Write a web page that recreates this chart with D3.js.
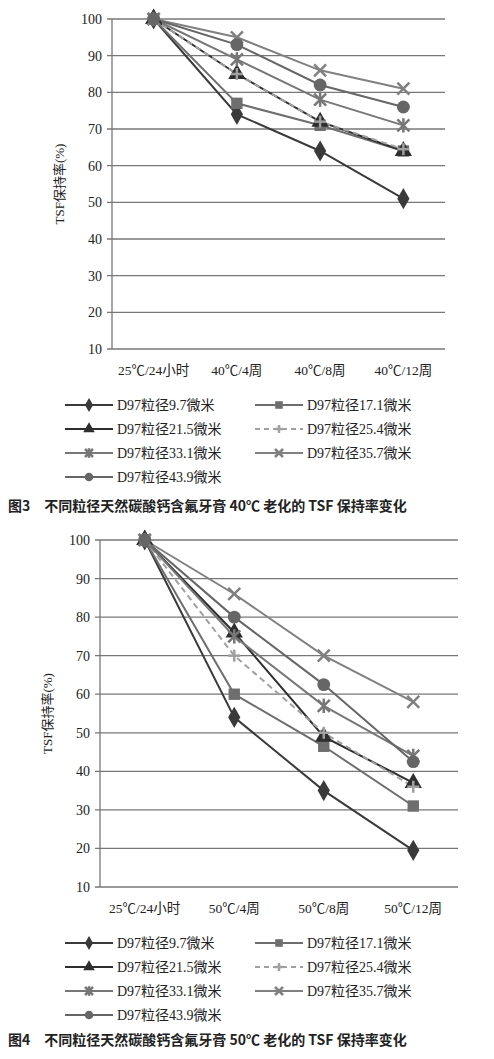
<!DOCTYPE html>
<html><head><meta charset="utf-8">
<script src="https://cdn.jsdelivr.net/npm/d3@7"></script>
<style>body{margin:0;background:#fff}text{font-family:"Liberation Serif","Noto Sans CJK SC",serif;fill:#222}</style>
</head><body><svg id="vis" width="494" height="1059"></svg>
<script>
const names = ['D97粒径9.7微米','D97粒径17.1微米','D97粒径21.5微米','D97粒径25.4微米','D97粒径33.1微米','D97粒径35.7微米','D97粒径43.9微米']
const cats1 = ['25℃/24小时','40℃/4周','40℃/8周','40℃/12周']
const cats2 = ['25℃/24小时','50℃/4周','50℃/8周','50℃/12周']
const yTicks = [10,20,30,40,50,60,70,80,90,100]
const vals1 = [
  [100,74,64,51],
  [100,77,71,64],
  [100,85,72,64],
  [100,85,72,64.5],
  [100,89,78,71],
  [100,95,86,81],
  [100,93,82,76]
]
const vals2 = [
  [100,54,35,19.5],
  [100,60,46.5,31],
  [100,76,49,37],
  [100,70,50,36],
  [100,75,57,44],
  [100,86,70,58],
  [100,80,62.5,42.5]
]
const colors = ['#3a3a3a','#6e6e6e','#2e2e2e','#a0a0a0','#777','#808080','#666']
const shapes = ['diamond','square','triangle','plus','asterisk','cross','circle']

const svg = d3.select('#vis')

function marker(g, type, x, y, s, c) {
  if (type === 'plus' || type === 'asterisk' || type === 'cross') {
    const p = type === 'plus' ? [[0,-1,0,1],[-1,0,1,0]]
      : type === 'cross' ? [[-1,-1,1,1],[-1,1,1,-1]]
      : [[-1,-1,1,1],[-1,1,1,-1],[0,-1.2,0,1.2]]
    for (const [a,b,e,f] of p) g.append('line').attr('x1',x+a*s).attr('y1',y+b*s).attr('x2',x+e*s).attr('y2',y+f*s)
      .attr('stroke',c).attr('stroke-width',2.5)
    return
  }
  const sym = {diamond:d3.symbolDiamond,square:d3.symbolSquare,triangle:d3.symbolTriangle,circle:d3.symbolCircle}[type]
  g.append('path').attr('d',d3.symbol(sym, s*s*3.6)()).attr('transform',`translate(${x},${y})`).attr('fill',c)
}

function chart(o) {
  const x = d3.scaleBand().domain(o.cats).range([o.x0, o.x1])
  const y = d3.scaleLinear().domain([10,100]).range([o.yb, o.yt])
  const g = svg.append('g')
  g.selectAll('.grid').data(yTicks).enter().append('line')
    .attr('x1',o.x0-5).attr('x2',o.x1).attr('y1',d=>y(d)).attr('y2',d=>y(d)).attr('stroke','#777').attr('stroke-width',1.3)
  g.append('line').attr('x1',o.x0).attr('x2',o.x0).attr('y1',o.yt).attr('y2',o.yb).attr('stroke','#777').attr('stroke-width',1.3)
  g.selectAll('.yt').data(yTicks).enter().append('text')
    .attr('x',o.x0-10).attr('y',d=>y(d)+5).attr('text-anchor','end').attr('font-size',14).text(d=>d)
  g.selectAll('.xt').data(o.cats).enter().append('text')
    .attr('x',d=>x(d)+x.bandwidth()/2).attr('y',o.yb+26).attr('text-anchor','middle').attr('font-size',13.5).text(d=>d)
  g.append('text').attr('transform',`translate(${o.ylx},${(o.yt+o.yb)/2}) rotate(-90)`)
    .attr('text-anchor','middle').attr('font-size',13).text('TSF保持率(%)')
  const line = d3.line().x((d,i)=>x(o.cats[i])+x.bandwidth()/2).y(d=>y(d))
  o.vals.forEach((v,k) => {
    g.append('path').attr('d',line(v)).attr('fill','none').attr('stroke',colors[k]).attr('stroke-width',2)
      .attr('stroke-dasharray', k===3 ? '6,4' : null)
  })
  o.vals.forEach((v,k) => v.forEach((d,i) => marker(g, shapes[k], x(o.cats[i])+x.bandwidth()/2, y(d), 6, colors[k])))
  // legend
  names.forEach((n,k) => {
    const lx = k%2 ? 255 : 65, ly = o.ly + Math.floor(k/2)*24
    g.append('line').attr('x1',lx).attr('x2',lx+48).attr('y1',ly).attr('y2',ly).attr('stroke',colors[k]).attr('stroke-width',2)
      .attr('stroke-dasharray', k===3 ? '5,4' : null)
    marker(g, shapes[k], lx+24, ly, 4, colors[k])
    g.append('text').attr('x',lx+52).attr('y',ly+5).attr('font-size',14).text(n)
  })
  g.append('text').attr('x',8).attr('y',o.cy).attr('font-size',14).attr('font-weight','bold')
    .style('font-family','"Noto Sans CJK SC",sans-serif').text(o.caption)
}

chart({cats:cats1, vals:vals1, x0:112, x1:445, yt:19, yb:349, ylx:64, ly:405, cy:511,
  caption:'图3　不同粒径天然碳酸钙含氟牙膏 40℃ 老化的 TSF 保持率变化'})
chart({cats:cats2, vals:vals2, x0:100, x1:458, yt:540, yb:887, ylx:52, ly:943, cy:1045,
  caption:'图4　不同粒径天然碳酸钙含氟牙膏 50℃ 老化的 TSF 保持率变化'})
</script></body></html>
